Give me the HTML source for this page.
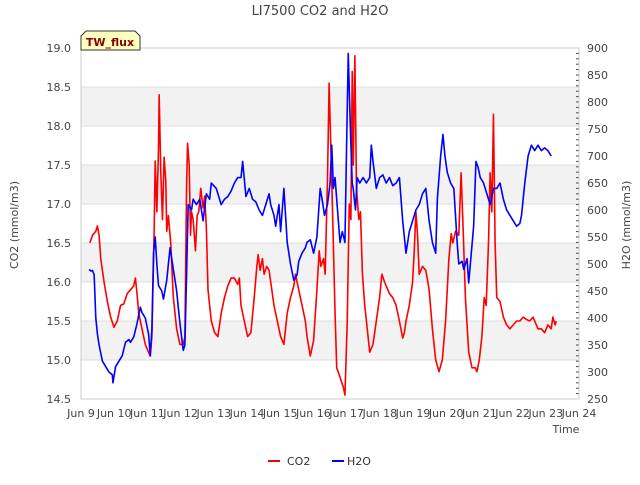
<!DOCTYPE html>
<html><head><meta charset="utf-8"><style>
body{margin:0;background:#fff;font-family:"Liberation Sans",sans-serif}
svg text{font-family:"DejaVu Sans","Liberation Sans",sans-serif}
</style></head><body>
<svg id="c" width="640" height="480" xmlns="http://www.w3.org/2000/svg">
<text x="320" y="15" text-anchor="middle" font-size="13" fill="#444">LI7500 CO2 and H2O</text>
<g id="grid"></g><g id="axes"></g><g id="series"></g>
<g><path d="M81,50 L81,36 L86,31 L135,31 L140,36 L140,50 Z" fill="#ffffc0" stroke="#333"/><text x="110" y="46" text-anchor="middle" font-size="11" font-weight="bold" fill="#8b0000">TW_flux</text></g>
<text transform="translate(18,225) rotate(-90)" text-anchor="middle" font-size="11" fill="#444">CO2 (mmol/m3)</text>
<text transform="translate(630,225) rotate(-90)" text-anchor="middle" font-size="11" fill="#444">H2O (mmol/m3)</text>
<text x="566" y="433" text-anchor="middle" font-size="11" fill="#444">Time</text>
<g><line x1="268" y1="461" x2="280" y2="461" stroke="red" stroke-width="2"/><text x="287" y="465" font-size="11" fill="#333">CO2</text></g>
<g><line x1="332" y1="461" x2="344" y2="461" stroke="blue" stroke-width="2"/><text x="347" y="465" font-size="11" fill="#333">H2O</text></g>
</svg>
<script>
const co2Days=[9.02,9.1,9.2,9.25,9.3,9.35,9.45,9.55,9.65,9.75,9.85,9.95,10.05,10.15,10.25,10.35,10.4,10.45,10.5,10.6,10.7,10.8,10.85,10.9,10.97,11.0,11.05,11.1,11.12,11.17,11.22,11.27,11.32,11.35,11.4,11.47,11.55,11.65,11.75,11.85,11.9,11.95,11.98,12.03,12.07,12.1,12.15,12.22,12.27,12.32,12.38,12.45,12.5,12.55,12.6,12.7,12.8,12.9,13.0,13.1,13.2,13.3,13.4,13.5,13.55,13.6,13.7,13.8,13.9,14.0,14.08,14.12,14.18,14.25,14.3,14.38,14.45,14.5,14.6,14.7,14.8,14.9,15.0,15.1,15.2,15.25,15.3,15.35,15.45,15.55,15.6,15.7,15.8,15.9,15.97,16.02,16.1,16.15,16.22,16.27,16.33,16.38,16.45,16.5,16.6,16.7,16.75,16.82,16.88,16.93,16.97,17.0,17.05,17.1,17.17,17.22,17.28,17.35,17.45,17.5,17.6,17.7,17.8,17.87,17.95,18.0,18.1,18.2,18.3,18.4,18.5,18.55,18.6,18.7,18.8,18.85,18.9,18.95,19.0,19.1,19.2,19.3,19.4,19.5,19.6,19.7,19.8,19.9,19.97,20.02,20.1,20.2,20.27,20.33,20.4,20.5,20.6,20.7,20.75,20.82,20.9,20.97,21.03,21.1,21.15,21.2,21.25,21.3,21.35,21.45,21.55,21.65,21.75,21.85,21.95,22.05,22.15,22.25,22.35,22.45,22.55,22.6,22.7,22.8,22.9,23.0,23.05,23.12,23.15];
const co2Values=[16.5,16.6,16.65,16.72,16.6,16.3,16.0,15.75,15.55,15.42,15.5,15.7,15.72,15.85,15.9,15.95,16.05,15.85,15.6,15.4,15.2,15.1,15.05,15.3,16.7,17.55,16.9,17.7,18.4,17.4,16.8,17.6,17.3,16.65,16.85,16.5,15.8,15.4,15.2,15.2,15.3,17.2,17.78,17.5,16.6,16.9,16.8,16.4,16.85,16.9,17.2,16.95,17.1,16.7,15.9,15.5,15.35,15.3,15.6,15.8,15.95,16.05,16.05,15.97,16.05,15.7,15.5,15.3,15.35,15.8,16.2,16.35,16.15,16.3,16.1,16.2,16.15,16.0,15.7,15.5,15.3,15.2,15.6,15.8,15.95,16.1,16.0,15.9,15.7,15.5,15.3,15.05,15.25,15.9,16.4,16.2,16.3,16.1,17.3,18.55,17.6,16.8,15.6,14.9,14.78,14.65,14.55,15.5,17.0,16.8,18.7,17.5,18.9,17.2,16.8,16.9,16.1,15.7,15.3,15.1,15.2,15.5,15.8,16.1,16.0,15.95,15.85,15.8,15.7,15.5,15.28,15.35,15.5,15.7,16.0,16.4,16.9,16.6,16.1,16.2,16.15,15.9,15.4,15.0,14.85,15.0,15.5,16.3,16.62,16.5,16.65,16.6,17.4,16.7,15.8,15.1,14.9,14.9,14.85,15.0,15.3,15.8,15.7,16.5,17.4,16.9,18.15,16.5,15.8,15.75,15.55,15.45,15.4,15.45,15.5,15.5,15.55,15.52,15.5,15.55,15.45,15.4,15.4,15.35,15.45,15.4,15.55,15.45,15.5];
const h2oDays=[9.0,9.05,9.1,9.15,9.2,9.25,9.3,9.4,9.5,9.55,9.6,9.7,9.72,9.8,9.9,10.0,10.1,10.2,10.25,10.35,10.45,10.55,10.6,10.7,10.8,10.85,10.9,10.95,11.0,11.05,11.1,11.2,11.25,11.35,11.45,11.55,11.65,11.75,11.85,11.9,11.95,12.0,12.1,12.15,12.25,12.35,12.45,12.55,12.65,12.7,12.85,12.95,13.0,13.1,13.2,13.3,13.4,13.5,13.6,13.65,13.75,13.85,13.95,14.05,14.15,14.25,14.35,14.45,14.5,14.6,14.65,14.75,14.8,14.85,14.9,14.95,15.0,15.1,15.2,15.3,15.35,15.45,15.55,15.6,15.7,15.8,15.9,16.0,16.07,16.13,16.22,16.3,16.35,16.4,16.45,16.55,16.6,16.67,16.75,16.8,16.85,16.92,16.97,17.0,17.07,17.12,17.2,17.3,17.4,17.5,17.55,17.6,17.7,17.8,17.9,18.0,18.1,18.2,18.3,18.4,18.45,18.5,18.6,18.7,18.8,18.9,19.0,19.1,19.2,19.25,19.3,19.4,19.5,19.55,19.65,19.72,19.78,19.85,19.95,20.05,20.15,20.2,20.3,20.35,20.45,20.5,20.55,20.65,20.72,20.78,20.85,20.95,21.05,21.15,21.25,21.35,21.45,21.55,21.65,21.75,21.85,21.95,22.05,22.1,22.2,22.3,22.4,22.5,22.6,22.7,22.8,22.9,23.0];
const h2oValues=[490,487,488,480,400,370,350,320,310,305,300,295,280,310,320,330,355,360,355,365,390,420,410,400,370,330,380,520,550,500,460,450,435,470,530,490,450,390,340,350,480,610,600,620,610,620,580,630,620,650,640,620,610,620,625,635,650,660,660,690,625,640,620,615,600,590,610,630,610,590,570,610,560,600,640,590,540,500,470,480,505,520,530,540,545,520,550,640,615,590,610,650,720,640,660,580,540,560,540,720,890,740,650,640,600,660,650,660,650,660,720,690,640,660,665,650,660,645,650,660,620,580,520,560,580,600,610,630,640,610,580,540,520,620,700,740,700,670,650,640,540,500,505,490,510,465,500,570,690,680,660,650,630,610,640,640,650,620,600,590,580,570,575,590,650,700,720,710,720,710,715,710,700];
const co2Ticks=[14.5,15.0,15.5,16.0,16.5,17.0,17.5,18.0,18.5,19.0];
const h2oTicks=[250,300,350,400,450,500,550,600,650,700,750,800,850,900];
const dayTicks=[9,10,11,12,13,14,15,16,17,18,19,20,21,22,23,24];
const L=81,R=579,T=48,B=399,NS='http://www.w3.org/2000/svg';
const yL=v=>T+(19-v)*(B-T)/4.5;
const yR=v=>T+(900-v)*(B-T)/650;
const xT=d=>L+(d-9)*(R-L)/15;        // tick scale
const xD=d=>89.2+(d-9)*33.0;          // data time scale
function mk(tag,attrs,parent){const e=document.createElementNS(NS,tag);for(const k in attrs)e.setAttribute(k,attrs[k]);parent.appendChild(e);return e;}
const grid=document.getElementById('grid'),axes=document.getElementById('axes'),series=document.getElementById('series');
for(let i=0;i<co2Ticks.length-1;i++){
  if(i%2===1){const r=mk('rect',{x:L,y:yL(co2Ticks[i+1]),width:R-L,height:yL(co2Ticks[i])-yL(co2Ticks[i+1]),fill:'#f2f2f2'},grid);
  
  }
}
co2Ticks.forEach(v=>{
  const g=mk('line',{x1:L,x2:R,y1:yL(v),y2:yL(v),stroke:'#ddd'},grid);
  
  
  const t=mk('text',{x:L-10,y:yL(v)+4,'text-anchor':'end','font-size':11,fill:'#444'},axes);
  t.textContent=v.toFixed(1);
  
  
});
h2oTicks.forEach(v=>{
  const t=mk('text',{x:R+8,y:yR(v)+4,'font-size':11,fill:'#444'},axes);
  t.textContent=v;
  
  
});
for(let v=250;v<=900;v+=10){mk('line',{x1:R-3,x2:R,y1:yR(v),y2:yR(v),stroke:'#444'},axes);}
mk('rect',{x:L,y:T,width:R-L,height:B-T,fill:'none',stroke:'#ccc'},axes);
dayTicks.forEach(d=>{
  const t=mk('text',{x:xT(d),y:B+18,'text-anchor':'middle','font-size':11,fill:'#444'},axes);
  t.textContent='Jun '+d;
  
  
});
const pc=mk('polyline',{points:co2Days.map((d,i)=>xD(d)+','+yL(co2Values[i])).join(' '),fill:'none',stroke:'red','stroke-width':1.6,'stroke-linejoin':'round'},series);


const ph=mk('polyline',{points:h2oDays.map((d,i)=>xD(d)+','+yR(h2oValues[i])).join(' '),fill:'none',stroke:'blue','stroke-width':1.6,'stroke-linejoin':'round'},series);


</script>
</body></html>
